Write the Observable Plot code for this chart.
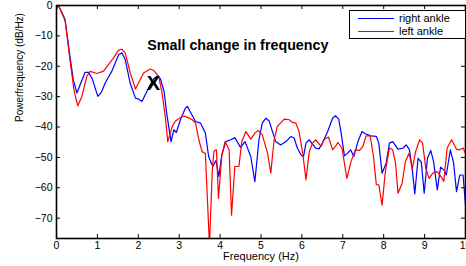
<!DOCTYPE html>
<html>
<head>
<meta charset="utf-8">
<script src="https://cdn.jsdelivr.net/npm/d3@7"></script>
<script src="https://cdn.jsdelivr.net/npm/@observablehq/plot@0.6"></script>
<style>
  body { margin: 0; background: #fff; font-family: "Liberation Sans", Arial, sans-serif; }
  #wrap { position: relative; width: 466px; height: 266px; }
  #legend { position: absolute; left: 349px; top: 10px; width: 115px; height: 27px;
            border: 1px solid #000; background: #fff; font-size: 11px; }
  .row { position: absolute; left: 0; height: 12px; display: flex; align-items: center; }
  .sw { width: 36px; height: 0; border-top: 1.3px solid; margin-left: 8px; margin-right: 5px; }
</style>
</head>
<body>
<div id="wrap"></div>
<script>
// Series: [frequency (Hz), power (dB/Hz)]
const seriesNames = ["right ankle", "left ankle"];
const seriesColors = ["#0000ff", "#ff0000"];
const rightAnkle = [
  [0,-0.5],[0.05,0],[0.21,-4.6],[0.33,-16.8],[0.41,-24.4],[0.5,-28.8],[0.58,-26],[0.7,-22],[0.78,-22],[0.87,-24],
  [1.01,-29.9],[1.1,-28.5],[1.19,-25.5],[1.35,-21.7],[1.52,-16.2],[1.6,-15.6],[1.68,-17.8],[1.8,-25.5],[1.93,-30.5],[1.99,-30.7],
  [2.09,-31.6],[2.17,-29.4],[2.29,-26.1],[2.38,-24],[2.46,-23.3],[2.54,-24.1],[2.63,-28.3],[2.7,-36],[2.8,-44.8],[2.87,-40.9],
  [2.93,-41.8],[3.03,-37.6],[3.15,-33.8],[3.2,-33.2],[3.27,-35],[3.4,-38.2],[3.52,-38.7],[3.64,-42],[3.72,-49.7],[3.82,-53],
  [3.9,-51],[3.97,-56.3],[4.04,-49.2],[4.14,-44.8],[4.26,-44.2],[4.36,-43.5],[4.5,-46.7],[4.61,-44.8],[4.75,-49.7],[4.85,-58],
  [4.95,-44.2],[5.03,-38.7],[5.12,-37.1],[5.2,-38],[5.28,-41.5],[5.36,-44.8],[5.48,-45.9],[5.61,-44.8],[5.73,-43.1],[5.81,-43.6],
  [5.89,-47],[5.98,-49.2],[6.04,-49.7],[6.1,-45.3],[6.18,-44.2],[6.26,-45.6],[6.34,-47],[6.42,-47.2],[6.5,-45.3],[6.63,-41.5],
  [6.75,-37.1],[6.82,-36.3],[6.9,-37.4],[6.96,-42],[7.04,-49.5],[7.12,-48.6],[7.19,-47.5],[7.27,-49.7],[7.37,-44.8],[7.47,-41.5],
  [7.55,-42.2],[7.69,-42.9],[7.82,-43.1],[7.88,-45.3],[7.96,-55.2],[8.06,-51.9],[8.14,-45.3],[8.22,-44.8],[8.35,-47.3],[8.47,-47],
  [8.55,-45.9],[8.63,-47.5],[8.7,-54.1],[8.76,-62],[8.84,-50.3],[8.92,-51.6],[8.99,-61.8],[9.07,-50.3],[9.15,-47.7],[9.22,-51.4],
  [9.31,-60.7],[9.39,-53.2],[9.47,-54.1],[9.53,-55.8],[9.63,-47.5],[9.71,-51.9],[9.78,-61.3],[9.86,-55.8],[9.94,-55.8],[10,-65.7]
];
const leftAnkle = [
  [0,-1.3],[0.05,0],[0.21,-5],[0.33,-18],[0.43,-28],[0.52,-33],[0.62,-30],[0.74,-23.3],[0.82,-21.7],[0.99,-22.4],
  [1.15,-21.6],[1.27,-19.5],[1.39,-17.3],[1.52,-14.7],[1.6,-14.4],[1.68,-15.6],[1.8,-22],[1.93,-27.5],[2.13,-22.2],[2.29,-20.9],
  [2.37,-21.3],[2.5,-23.3],[2.58,-28.8],[2.66,-36.5],[2.72,-44.8],[2.83,-39.8],[2.91,-38],[3.07,-36.5],[3.15,-36.5],[3.32,-37.6],
  [3.4,-38.7],[3.48,-44.2],[3.56,-48.1],[3.64,-48.7],[3.74,-79],[3.81,-54],[3.85,-48],[3.91,-47.5],[3.96,-63.5],[4.04,-49.7],
  [4.12,-44.8],[4.22,-47.5],[4.28,-69],[4.36,-53],[4.46,-53],[4.53,-44.8],[4.63,-41.5],[4.75,-44],[4.85,-42],[4.93,-41.1],
  [5.03,-42.5],[5.16,-48.6],[5.24,-55.2],[5.32,-44.2],[5.4,-39.8],[5.57,-37.4],[5.69,-37.6],[5.77,-38.5],[5.85,-38.7],[5.93,-41.5],
  [6.02,-48.6],[6.1,-57.4],[6.18,-48.1],[6.26,-45.3],[6.34,-44.2],[6.47,-46.4],[6.55,-44],[6.65,-43.3],[6.75,-47.5],[6.82,-46.4],
  [6.88,-45.1],[6.98,-47],[7.1,-56.9],[7.2,-51.4],[7.31,-47.5],[7.41,-47.7],[7.49,-46.4],[7.57,-42.9],[7.67,-42.9],[7.75,-49.7],
  [7.82,-59],[7.88,-59],[7.96,-65.7],[8.04,-54.7],[8.14,-46.9],[8.22,-47.5],[8.29,-51.9],[8.35,-61.8],[8.45,-58.5],[8.53,-51.4],
  [8.62,-48.6],[8.7,-53.6],[8.78,-48.1],[8.88,-44.2],[8.95,-45.3],[9.03,-53.6],[9.11,-56.9],[9.2,-55.2],[9.31,-54.7],[9.41,-56.5],
  [9.47,-57.9],[9.55,-47],[9.66,-44.2],[9.78,-47.3],[9.86,-47.5],[9.94,-46.9],[10,-48.6]
];
const xTicks = [0,1,2,3,4,5,6,7,8,9,10];
const yTicks = [0,-10,-20,-30,-40,-50,-60,-70];
const xLabel = "Frequency (Hz)";
const yLabel = "Powerfrequency (dB/Hz)";
const titleText = ["Small change in frequency"];
const titleAt = [[2.22, -13.2]];
const markerText = ["X"];
const markerAt = [[2.37, -25.6]];

const font = "Liberation Sans, Arial, sans-serif";
const plotH = 266 - 5 - 28;
const plotW = 466 - 56 - 1;

const chart = Plot.plot({
  width: 466, height: 266,
  marginLeft: 56, marginRight: 1, marginTop: 5, marginBottom: 28,
  style: { fontFamily: font, fontSize: "10.5px", color: "#000", background: "#fff" },
  x: { domain: [0, 10] },
  y: { domain: [-76.7, 0] },
  marks: [
    Plot.line(rightAnkle, { x: d => d[0], y: d => d[1], stroke: seriesColors[0], strokeWidth: 1.2, clip: true }),
    Plot.line(leftAnkle, { x: d => d[0], y: d => d[1], stroke: seriesColors[1], strokeWidth: 1.2, clip: true }),
    Plot.frame({ stroke: "#000", strokeWidth: 1.6 }),
    // inward ticks
    Plot.tickX(xTicks, { x: d => d, insetTop: plotH - 4, stroke: "#000" }),
    Plot.tickX(xTicks, { x: d => d, insetBottom: plotH - 4, stroke: "#000" }),
    Plot.tickY(yTicks, { y: d => d, insetRight: plotW - 4, stroke: "#000" }),
    Plot.tickY(yTicks, { y: d => d, insetLeft: plotW - 4, stroke: "#000" }),
    Plot.axisX(xTicks, { tickSize: 0, tickPadding: 3, label: null, fontSize: 10.5 }),
    Plot.axisY(yTicks, { tickSize: 0, tickPadding: 4, label: null, fontSize: 10.5 }),
    Plot.text([xLabel], { frameAnchor: "bottom", text: d => d, dy: 21.5, fontSize: 11 }),
    Plot.text([yLabel], { frameAnchor: "left", text: d => d, dx: -37, rotate: -90, fontSize: 10 }),
    Plot.text(titleAt, { x: d => d[0], y: d => d[1], text: (d, i) => titleText[i], textAnchor: "start", fontWeight: "bold", fontSize: 14.3 }),
    Plot.text(markerAt, { x: d => d[0], y: d => d[1], text: (d, i) => markerText[i], fontWeight: "bold", fontSize: 20 })
  ]
});
const wrap = document.getElementById("wrap");
wrap.appendChild(chart);

const legend = document.createElement("div");
legend.id = "legend";
seriesNames.forEach((name, i) => {
  const row = document.createElement("div");
  row.className = "row";
  row.style.top = (1 + i * 13.3) + "px";
  const sw = document.createElement("span");
  sw.className = "sw";
  sw.style.borderTopColor = seriesColors[i];
  const lab = document.createElement("span");
  lab.textContent = name;
  row.appendChild(sw); row.appendChild(lab);
  legend.appendChild(row);
});
wrap.appendChild(legend);
</script>
</body>
</html>
